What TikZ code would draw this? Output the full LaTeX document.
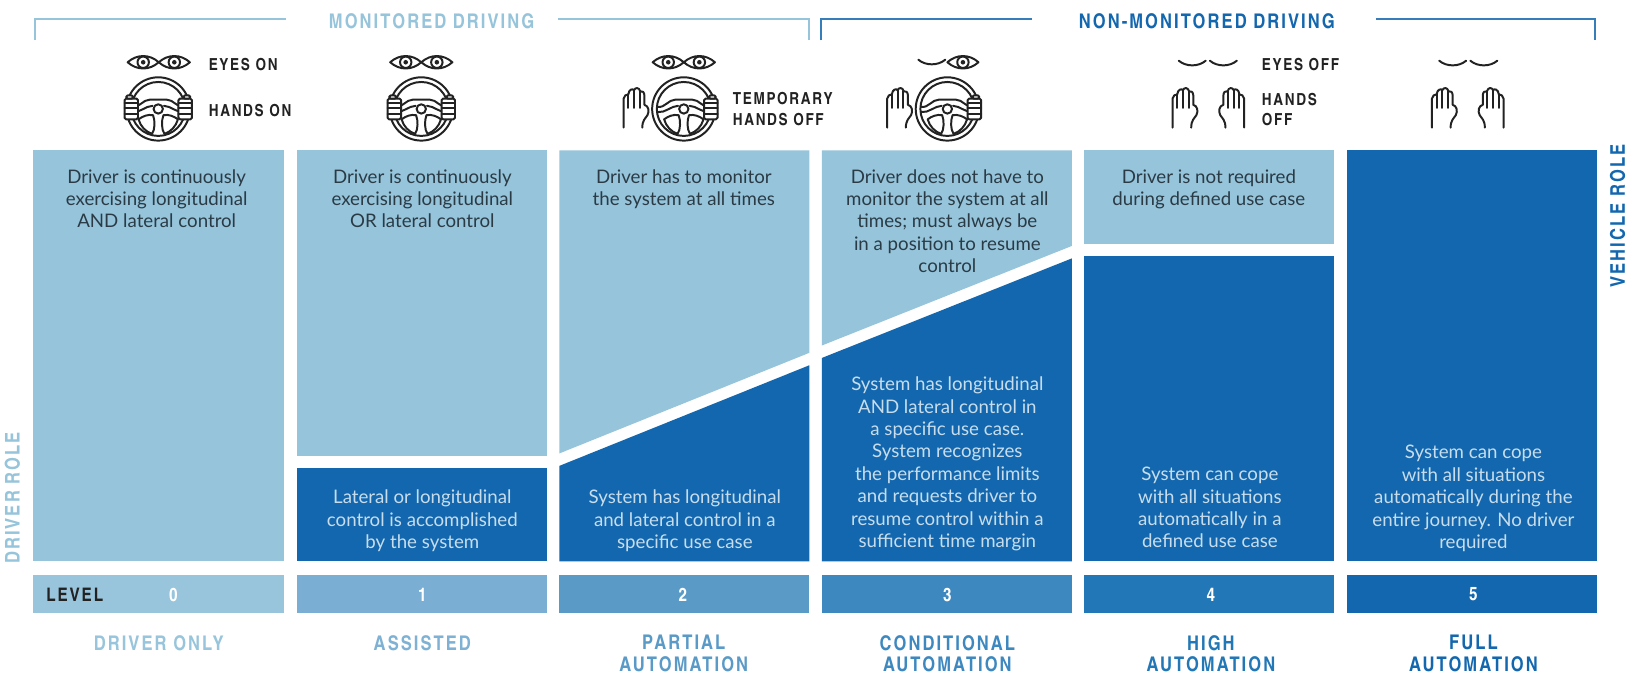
\documentclass[tikz,border=0pt]{standalone}
\usepackage{fontspec}
\setmainfont{Lato}
\newfontfamily\headfont[LetterSpace=10]{TeX Gyre Heros Cn Bold}
\definecolor{lightb}{HTML}{96C4DA}
\definecolor{darkb}{HTML}{1367AE}
\definecolor{lvlA}{HTML}{98C5DB}
\definecolor{lvlB}{HTML}{7AAED2}
\definecolor{lvlC}{HTML}{5A9AC7}
\definecolor{lvlD}{HTML}{3D88BF}
\definecolor{lvlE}{HTML}{2278B6}
\definecolor{lvlF}{HTML}{1367AE}
\definecolor{inkd}{HTML}{2A3B46}
\definecolor{inkl}{HTML}{C8DDEC}
\definecolor{iconc}{HTML}{222222}
\tikzset{
  bodytext/.style={anchor=north,align=center,inner sep=0pt,font=\fontsize{18}{21.6}\selectfont},
  ondark/.style={bodytext,text=inkl},
  onlight/.style={bodytext,text=inkd},
  heading/.style={inner sep=0pt,font=\headfont\fontsize{19.5}{21}\selectfont},
  bignum/.style={inner sep=0pt,text=white,font=\headfont\fontsize{18}{19}\selectfont},
  blacklabel/.style={inner sep=0pt,anchor=west,text=iconc,font=\headfont\fontsize{16}{19}\selectfont},
  bracketline/.style={line width=2pt},
  iconline/.style={draw=iconc,line width=1.9pt,line cap=round,line join=round},
  pics/eyeicon/.style={code={
    \draw[iconline] (-15,0) .. controls (-6,-8) and (6,-8) .. (15,0) .. controls (6,8) and (-6,8) .. (-15,0) -- cycle;
    \draw[iconline] (0,0) circle[radius=5.5pt];
    \fill[iconc] (0,0) circle[radius=2.2pt];
  }},
  pics/shuteye/.style={code={
    \draw[iconline] (-13,-2.5) .. controls (-6,3.5) and (6,3.5) .. (13,-2.5);
  }},
  pics/wheelicon/.style={code={
    \draw[iconline] (0,0) circle[radius=30.5pt];
    \draw[iconline] (0,0) circle[radius=26pt];
    \draw[iconline] (0,0) circle[radius=4.5pt];
    \draw[iconline] (-25,-2) .. controls (-18,-1) and (-15,-9) .. (-8,-9) -- (8,-9) .. controls (15,-9) and (18,-1) .. (25,-2);
    \draw[iconline] (-25,3) .. controls (-18,4) and (-12,-3) .. (-5.5,-3);
    \draw[iconline] (25,3) .. controls (18,4) and (12,-3) .. (5.5,-3);
    \draw[iconline] (-5,6) .. controls (-10,5) and (-15,7) .. (-19,10) .. controls (-17,17) and (-12,22) .. (-6,24) .. controls (-3,20) and (-3,11) .. (-5,6) -- cycle;
    \draw[iconline] (5,6) .. controls (10,5) and (15,7) .. (19,10) .. controls (17,17) and (12,22) .. (6,24) .. controls (3,20) and (3,11) .. (5,6) -- cycle;
  }},
  pics/gripicon/.style={code={
    \draw[iconline,fill=white,rounded corners=1.5pt] (-6.5,-9) rectangle (6.5,11);
    \draw[iconline] (-6.5,-4.5) -- (6.5,-4.5) (-6.5,0.5) -- (6.5,0.5) (-6.5,5.5) -- (6.5,5.5);
    \draw[iconline,fill=white,rounded corners=1.5pt] (-5,-12) rectangle (2,-9);
  }},
  pics/handicon/.style={code={
    \draw[iconline] (0,39) -- (0,11) .. controls (0,8) and (3,7) .. (4.5,7) .. controls (5,2) and (9,1) .. (10,3) .. controls (11,0) and (15,0) .. (16,4) .. controls (18,3) and (20,5) .. (20,8) -- (20,17) .. controls (24,18) and (25,23) .. (23,27) .. controls (21,30) and (18,32) .. (18,39);
    \draw[iconline] (4.5,7) -- (4.5,20) (10,3) -- (10,20) (15.5,4) -- (15.5,20);
  }}
}
\begin{document}
\begin{tikzpicture}[x=1pt,y=-1pt]
\useasboundingbox (0,0) rectangle (1568,650.5);
\fill[white] (0,0) rectangle (1568,650.5);
% brackets
\coordinate (bl1) at (34,39); \coordinate (bl2) at (34,18); \coordinate (bl3) at (276,18);
\coordinate (bl4) at (538,18); \coordinate (bl5) at (780,18); \coordinate (bl6) at (780,39);
\coordinate (bd1) at (791,39); \coordinate (bd2) at (791,18); \coordinate (bd3) at (995,18);
\coordinate (bd4) at (1326,18); \coordinate (bd5) at (1537,18); \coordinate (bd6) at (1537,39);
\draw[bracketline,lightb] (bl1) -- (bl2) -- (bl3);
\draw[bracketline,lightb] (bl4) -- (bl5) -- (bl6);
\draw[bracketline,darkb!85!white] (bd1) -- (bd2) -- (bd3);
\draw[bracketline,darkb!85!white] (bd4) -- (bd5) -- (bd6);
\node[heading,text=lightb] (monitored) at (416,20) {MONITORED DRIVING};
\node[heading,text=darkb] (nonmonitored) at (1163,20) {NON-MONITORED DRIVING};
% panels
\fill[lightb] (32,145) rectangle (274,541);
\fill[lightb] (286,145) rectangle (527,439);
\fill[darkb] (286,451) rectangle (527,541);
\fill[lightb] (539,145) -- (780,145) -- (780,340) -- (539,437) -- cycle;
\fill[darkb] (539,449) -- (780,352) -- (780,541) -- (539,541) -- cycle;
\fill[lightb] (792,145) -- (1033,145) -- (1033,237) -- (792,333) -- cycle;
\fill[darkb] (792,345) -- (1033,249) -- (1033,541) -- (792,541) -- cycle;
\fill[lightb] (1045,145) rectangle (1286,235);
\fill[darkb] (1045,247) rectangle (1286,541);
\fill[darkb] (1298,145) rectangle (1539,541);
% level strip
\fill[lvlA] (32,554) rectangle (274,591);
\fill[lvlB] (286,554) rectangle (527,591);
\fill[lvlC] (539,554) rectangle (780,591);
\fill[lvlD] (792,554) rectangle (1033,591);
\fill[lvlE] (1045,554) rectangle (1286,591);
\fill[lvlF] (1298,554) rectangle (1539,591);
% panel text
\node[onlight] (t0) at (151,163) {Driver is continuously\\exercising longitudinal\\AND lateral control};
\node[onlight] (t1) at (407,163) {Driver is continuously\\exercising longitudinal\\OR lateral control};
\node[onlight] (t2) at (659,163) {Driver has to monitor\\the system at all times};
\node[onlight] (t3) at (913,163) {Driver does not have to\\monitor the system at all\\times; must always be\\in a position to resume\\control};
\node[onlight] (t4) at (1165,163) {Driver is not required\\during defined use case};
\node[ondark] (s1) at (407,472) {Lateral or longitudinal\\control is accomplished\\by the system};
\node[ondark] (s2) at (660,472) {System has longitudinal\\and lateral control in a\\specific use case};
\node[ondark] (s3) at (913,363) {System has longitudinal\\AND lateral control in\\a specific use case.\\System recognizes\\the performance limits\\and requests driver to\\resume control within a\\sufficient time margin};
\node[ondark] (s4) at (1166,450) {System can cope\\with all situations\\automatically in a\\defined use case};
\node[ondark] (s5) at (1420,429) {System can cope\\with all situations\\automatically during the\\entire journey. No driver\\required};
% level strip text
\node[blacklabel,anchor=center,font=\headfont\fontsize{18}{19}\selectfont] (lvl) at (72,573) {LEVEL};
\node[bignum] (n0) at (167,573) {0};
\node[bignum] (n1) at (407,573) {1};
\node[bignum] (n2) at (658,573) {2};
\node[bignum] (n3) at (913,573) {3};
\node[bignum] (n4) at (1167,573) {4};
\node[bignum] (n5) at (1420,573) {5};
% level names
\node[heading,text=lvlA] (d0) at (153,620) {DRIVER ONLY};
\node[heading,text=lvlB!85!lvlA] (d1) at (407,620) {ASSISTED};
\node[heading,text=lvlC,align=center,anchor=north] (d2) at (659,612) {PARTIAL\\AUTOMATION};
\node[heading,text=lvlD,align=center,anchor=north] (d3) at (913,612) {CONDITIONAL\\AUTOMATION};
\node[heading,text=lvlE,align=center,anchor=north] (d4) at (1167,612) {HIGH\\AUTOMATION};
\node[heading,text=lvlF,align=center,anchor=north] (d5) at (1420,612) {FULL\\AUTOMATION};
% roles
\node[heading,text=lightb,rotate=90] (driverrole) at (12,480) {DRIVER ROLE};
\node[heading,text=darkb,rotate=90] (vehiclerole) at (1559,208) {VEHICLE ROLE};
% black labels
\node[blacklabel] (eyeson) at (201,62) {EYES ON};
\node[blacklabel] (handson) at (201,107) {HANDS ON};
\node[blacklabel] (temp) at (706,95) {TEMPORARY};
\node[blacklabel] (tempoff) at (706,115) {HANDS OFF};
\node[blacklabel] (eyesoff) at (1216,62) {EYES OFF};
\node[blacklabel] (handsa) at (1216,96) {HANDS};
\node[blacklabel] (handsb) at (1216,115) {OFF};
% icons level 0
\pic at (138,60) {eyeicon}; \pic at (168,60) {eyeicon};
\pic at (152.5,105) {wheelicon};
\pic at (126.5,104) {gripicon};
\pic[xscale=-1] at (178.5,104) {gripicon};
% level 1
\pic at (391,60) {eyeicon}; \pic at (421,60) {eyeicon};
\pic at (406,105) {wheelicon};
\pic at (380,104) {gripicon};
\pic[xscale=-1] at (432,104) {gripicon};
% level 2
\pic at (644,60) {eyeicon}; \pic at (674,60) {eyeicon};
\pic at (659,105) {wheelicon};
\pic[xscale=-1] at (685,104) {gripicon};
\pic at (601,84) {handicon};
% level 3
\pic at (898,60) {shuteye}; \pic at (928,60) {eyeicon};
\pic at (913,105) {wheelicon};
\pic[xscale=-1] at (939,104) {gripicon};
\pic at (855,84) {handicon};
% level 4
\pic at (1149,61) {shuteye}; \pic at (1179,61) {shuteye};
\pic at (1130,84) {handicon};
\pic[xscale=-1] at (1199,84) {handicon};
% level 5
\pic at (1400,61) {shuteye}; \pic at (1430,61) {shuteye};
\pic at (1380,84) {handicon};
\pic[xscale=-1] at (1449,84) {handicon};
\end{tikzpicture}
\end{document}
